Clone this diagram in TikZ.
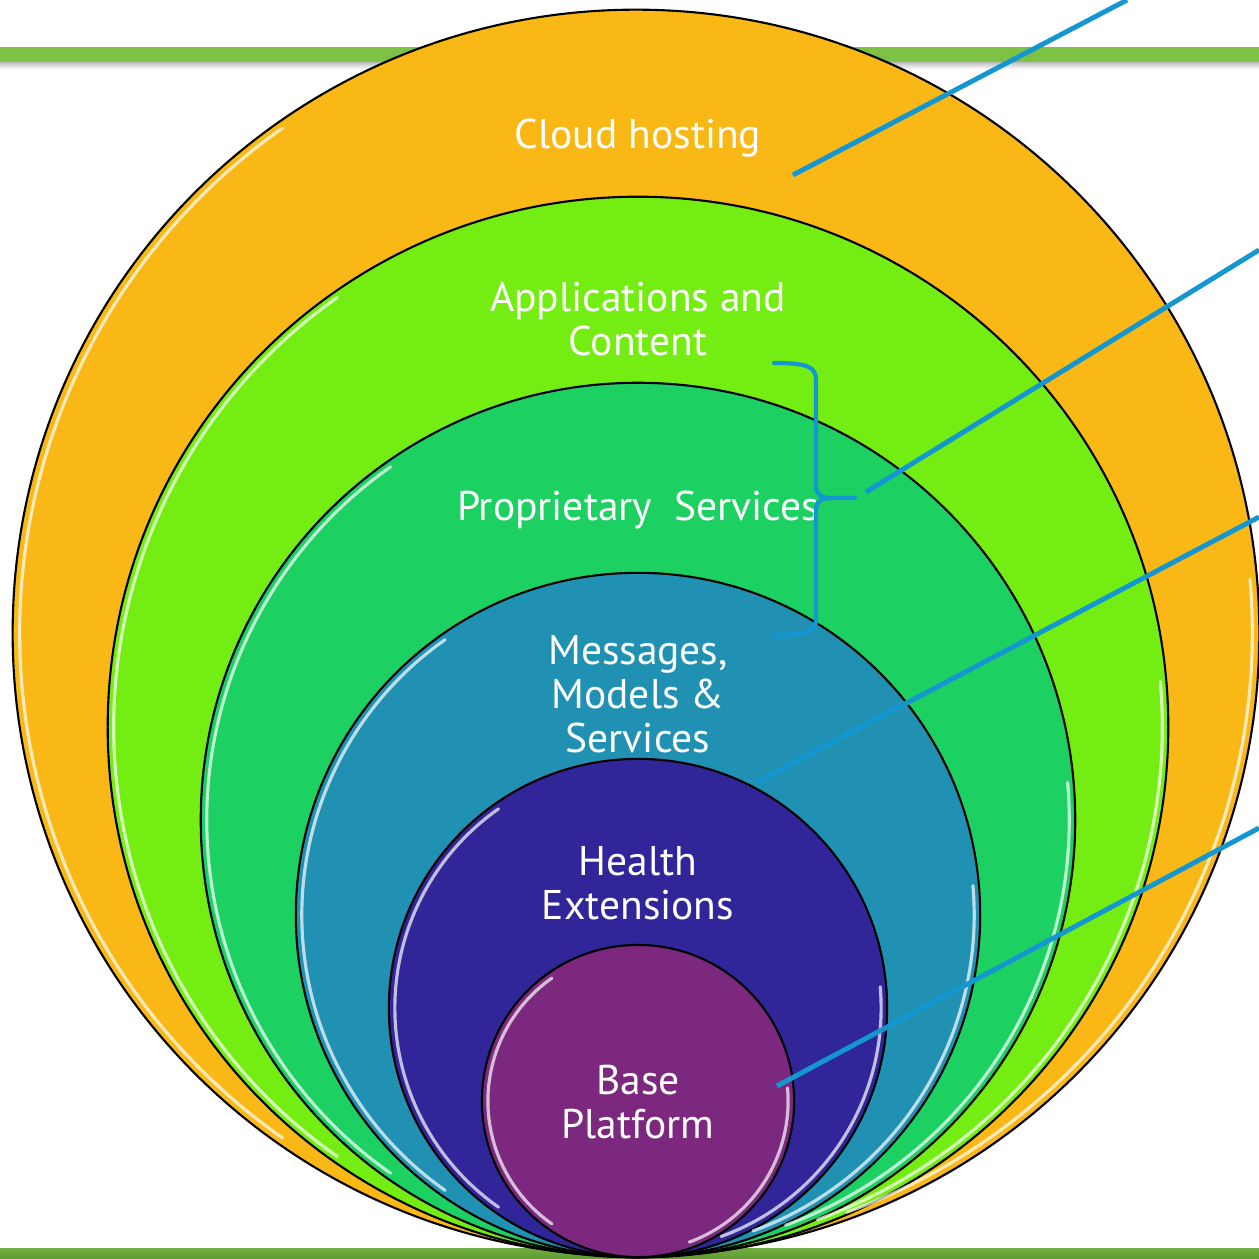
\documentclass[tikz,border=0pt]{standalone}
\usepackage{fontspec}
\setmainfont{PT Sans}
\definecolor{corange}{HTML}{FAB817}
\definecolor{clime}{HTML}{74EE12}
\definecolor{cemerald}{HTML}{1CD062}
\definecolor{cteal}{HTML}{2191B3}
\definecolor{cindigo}{HTML}{30269A}
\definecolor{cpurple}{HTML}{7B287E}
\definecolor{bargreen}{HTML}{7DC145}
\definecolor{bargreendk}{HTML}{5E9C34}
\definecolor{leadblue}{HTML}{1496D1}
\begin{document}
\begin{tikzpicture}[x=0.01cm,y=-0.01cm,
  ring/.style={circle, draw=black, line width=0.6pt, inner sep=0pt},
  hl/.style={draw=white, line width=0.9pt, opacity=0.7, line cap=round},
  lbl/.style={text=white, align=center, anchor=base, font=\fontsize{11.8}{12.4}\selectfont},
  lead/.style={draw=leadblue, line width=1.4pt},
  brace/.style={draw=leadblue, line width=1.2pt, line cap=round, line join=round}]
\useasboundingbox (0,0) rectangle (1259,1259);
% bars
\shade[top color=black!30, bottom color=white] (0,61) rectangle (1259,69);
\fill[bargreen] (0,47) rectangle (1259,62);
\shade[top color=bargreen!90!black, bottom color=bargreendk] (0,1248) rectangle (1259,1259);
% circles
\node[ring, fill=corange, minimum size=12.46cm] (c1) at (636,633) {};
\node[ring, fill=clime, minimum size=10.60cm] (c2) at (638,727) {};
\node[ring, fill=cemerald, minimum size=8.74cm] (c3) at (638,820) {};
\node[ring, fill=cteal, minimum size=6.84cm] (c4) at (638,915) {};
\node[ring, fill=cindigo, minimum size=4.98cm] (c5) at (638,1008) {};
\node[ring, fill=cpurple, minimum size=3.12cm] (c6) at (638,1101) {};
% highlights
\foreach \c/\r in {c1/6.16,c2/5.24,c3/4.31,c4/3.36,c5/2.43,c6/1.50}{
  \draw[hl] ([shift={(125:\r cm)}]\c.center) arc[start angle=125,end angle=235,radius=\r cm];
  \draw[hl] ([shift={(-70:\r cm)}]\c.center) arc[start angle=-70,end angle=5,radius=\r cm];
}
% labels (anchor base = baseline of last line)
\node[lbl] (t1) at (638,148) {Cloud hosting};
\node[lbl] (t2) at (638,355) {Applications and\\Content};
\node[lbl] (t3) at (638,520) {Proprietary\ \ Services};
\node[lbl] (t4) at (638,752) {Messages,\\Models \&\\Services};
\node[lbl] (t5) at (638,919) {Health\\Extensions};
\node[lbl] (t6) at (638,1138) {Base\\Platform};
% brace
\coordinate (bt) at (774,363);
\coordinate (bb) at (774,635);
\coordinate (bk) at (855,498);
\draw[brace] (bt) .. controls (806,363) and (816,366) .. (816,380) -- (816,486)
  .. controls (816,495) and (822,498) .. (832,498) -- (bk);
\draw[brace] (832,498) .. controls (822,498) and (816,501) .. (816,510) -- (816,620)
  .. controls (816,632) and (806,635) .. (bb);
% leader lines
\coordinate (a1) at (793,175);  \coordinate (b1) at (1127,0);
\coordinate (a2) at (866,492);  \coordinate (b2) at (1259,250);
\coordinate (a3) at (757,782);  \coordinate (b3) at (1259,517);
\coordinate (a4) at (777,1086); \coordinate (b4) at (1259,828);
\draw[lead] (a1) -- (b1);
\draw[lead] (a2) -- (b2);
\draw[lead] (a3) -- (b3);
\draw[lead] (a4) -- (b4);
\end{tikzpicture}
\end{document}
